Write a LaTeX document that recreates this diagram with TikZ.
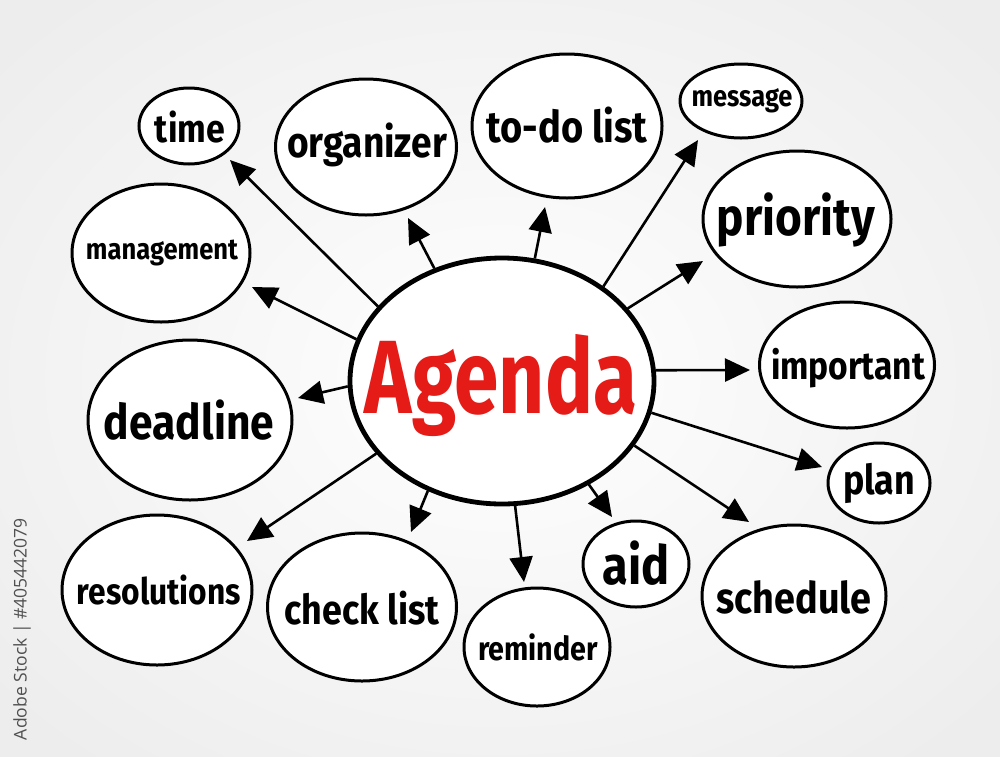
\documentclass[tikz,border=0pt]{standalone}
\usepackage{fontspec}
\setmainfont{Fira Sans}
\newfontfamily\wmfont{Open Sans}
\usetikzlibrary{shapes.geometric,arrows.meta}
\definecolor{agred}{HTML}{E41B17}
\definecolor{wmgray}{HTML}{505050}
\tikzset{
  ell/.style={ellipse,draw=black,line width=3pt,fill=white,inner sep=0pt},
  bigell/.style={ell,line width=4.8pt},
  txt/.style={inner sep=0pt,font=\bfseries,text=black},
  arr/.style={line width=2.6pt,-{Triangle[length=25pt,width=23pt]}},
}
\newcommand{\fitw}[2]{\scalebox{1}[1.15]{\resizebox{#1pt}{!}{#2}}}
\begin{document}
\begin{tikzpicture}[x=1pt,y=-1pt]
\useasboundingbox (0,0) rectangle (1000,756);
\shade[inner color=white,outer color=black!7] (-150,-120) rectangle (1150,876);
% ellipses
\node[ell,minimum width=100pt,minimum height=76pt] (time) at (189,126) {};
\node[ell,minimum width=181pt,minimum height=136pt] (organizer) at (366,147) {};
\node[ell,minimum width=190pt,minimum height=144pt] (todo) at (567,126) {};
\node[ell,minimum width=122pt,minimum height=74pt] (message) at (741,101) {};
\node[ell,minimum width=188pt,minimum height=136pt] (priority) at (797,219) {};
\node[ell,minimum width=178pt,minimum height=138pt] (management) at (161,253) {};
\node[ell,minimum width=175pt,minimum height=126pt] (important) at (847,365) {};
\node[ell,minimum width=204pt,minimum height=160pt] (deadline) at (190,420) {};
\node[ell,minimum width=102pt,minimum height=80pt] (plan) at (879,483) {};
\node[ell,minimum width=190pt,minimum height=150pt] (resolutions) at (157,590) {};
\node[ell,minimum width=189pt,minimum height=148pt] (checklist) at (362,607) {};
\node[ell,minimum width=146pt,minimum height=118pt] (reminder) at (537,647) {};
\node[ell,minimum width=106pt,minimum height=86pt] (aid) at (636,564) {};
\node[ell,minimum width=184pt,minimum height=142pt] (schedule) at (794,596) {};
\node[bigell,minimum width=304pt,minimum height=246pt] (c) at (502,381) {};
% texts
\node[txt] (t-time) at (190,127) {\fitw{70}{time}};
\node[txt] (t-organizer) at (367,145) {\fitw{160}{organizer}};
\node[txt] (t-todo) at (567,125) {\fitw{161}{to-do list}};
\node[txt] (t-message) at (742,101) {\fitw{101}{message}};
\node[txt] (t-priority) at (796,220) {\fitw{158}{priority}};
\node[txt] (t-management) at (162,253) {\fitw{152}{management}};
\node[txt] (t-important) at (848,368) {\fitw{154}{important}};
\node[txt] (t-deadline) at (189,420) {\fitw{170}{deadline}};
\node[txt] (t-plan) at (879,483) {\fitw{72}{plan}};
\node[txt] (t-resolutions) at (159,590) {\fitw{164}{resolutions}};
\node[txt] (t-checklist) at (362,608) {\fitw{155}{check list}};
\node[txt] (t-reminder) at (538,647) {\fitw{120}{reminder}};
\node[txt] (t-aid) at (636,563) {\fitw{67}{aid}};
\node[txt] (t-schedule) at (794,597) {\fitw{155}{schedule}};
\node[txt,text=agred] (t-agenda) at (501,386) {\scalebox{1}[1.3]{\resizebox{272pt}{!}{Agenda}}};
% arrow tips
\coordinate (a-time) at (230,160);
\coordinate (a-organizer) at (408,218);
\coordinate (a-todo) at (545,207);
\coordinate (a-message) at (698,140);
\coordinate (a-priority) at (703,261);
\coordinate (a-management) at (252,287);
\coordinate (a-deadline) at (298,398);
\coordinate (a-important) at (750,370);
\coordinate (a-plan) at (822,467);
\coordinate (a-schedule) at (749,522);
\coordinate (a-aid) at (612,517);
\coordinate (a-reminder) at (524,582);
\coordinate (a-checklist) at (411,532);
\coordinate (a-resolutions) at (247,541);
% arrows
\draw[arr] (c.149) -- (a-time);
\draw[arr] (c.121) -- (a-organizer);
\draw[arr] (c.75) -- (a-todo);
\draw[arr] (c.43) -- (a-message);
\draw[arr] (c.30) -- (a-priority);
\draw[arr] (c.164) -- (a-management);
\draw[arr] (c.182) -- (a-deadline);
\draw[arr] (c.4) -- (a-important);
\draw[arr] (c.-12) -- (a-plan);
\draw[arr] (c.-26) -- (a-schedule);
\draw[arr] (c.-50) -- (a-aid);
\draw[arr] (c.-84) -- (a-reminder);
\draw[arr] (c.-124) -- (a-checklist);
\draw[arr] (c.-150) -- (a-resolutions);
% stock label
\node[inner sep=0pt,rotate=90,text=wmgray,font=\wmfont] (wm) at (22,629) {\resizebox{222pt}{!}{Adobe Stock | \#405442079}};
\end{tikzpicture}
\end{document}
